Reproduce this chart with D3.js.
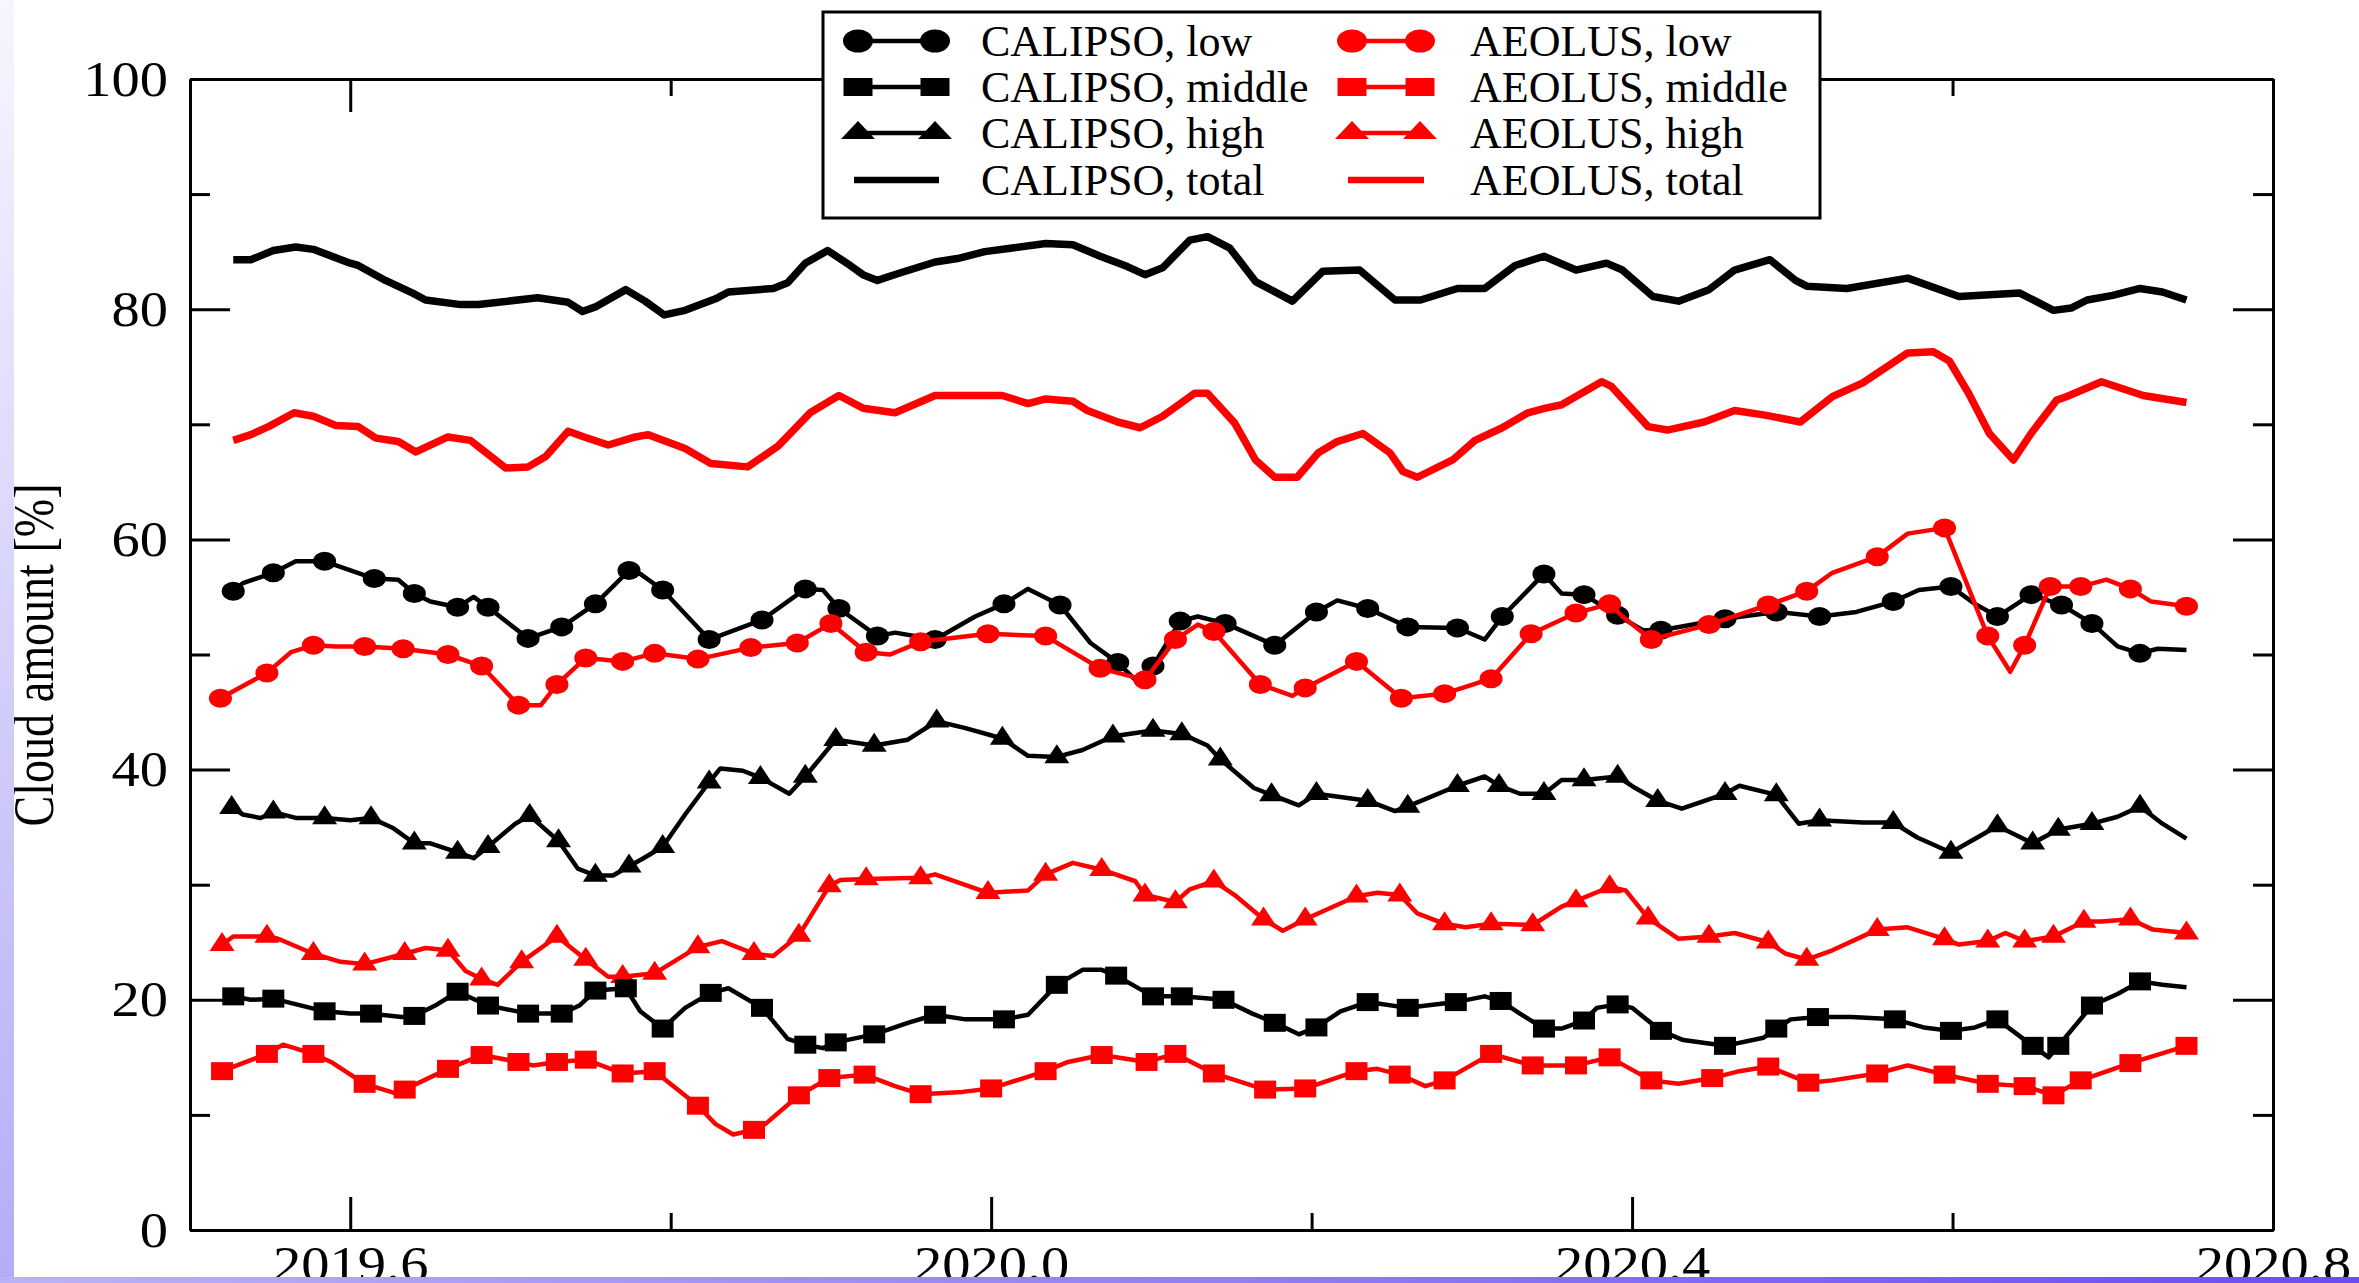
<!DOCTYPE html>
<html>
<head>
<meta charset="utf-8">
<script src="https://cdn.jsdelivr.net/npm/d3@7"></script>
<style>
  body { margin: 0; background: #fff; }
  svg { display: block; }
</style>
</head>
<body>
<svg id="chart" width="2359" height="1283"></svg>
<script>
// Cloud amount time series, [decimal year, %, marker drawn (1/0)]
const calipsoTotal = [
  [2019.527,84.3],[2019.538,84.3],[2019.552,85.1],[2019.566,85.4],[2019.577,85.2],[2019.600,84.0],[2019.605,83.8],
  [2019.622,82.5],[2019.639,81.4],[2019.647,80.8],[2019.669,80.4],[2019.680,80.4],[2019.717,81.0],[2019.736,80.6],
  [2019.745,79.8],[2019.753,80.2],[2019.772,81.7],[2019.784,80.7],[2019.796,79.5],[2019.809,79.9],[2019.828,80.9],
  [2019.836,81.5],[2019.864,81.8],[2019.873,82.3],[2019.884,84.0],[2019.898,85.1],[2019.912,83.8],[2019.920,83.0],
  [2019.929,82.5],[2019.942,83.1],[2019.965,84.1],[2019.979,84.4],[2019.996,85.0],[2020.012,85.3],[2020.034,85.7],
  [2020.051,85.6],[2020.068,84.6],[2020.085,83.7],[2020.096,83.0],[2020.107,83.6],[2020.124,86.0],[2020.135,86.3],
  [2020.149,85.3],[2020.165,82.4],[2020.188,80.7],[2020.207,83.3],[2020.230,83.4],[2020.252,80.8],[2020.268,80.8],
  [2020.291,81.8],[2020.308,81.8],[2020.327,83.8],[2020.345,84.6],[2020.365,83.4],[2020.384,84.0],[2020.394,83.4],
  [2020.413,81.1],[2020.429,80.7],[2020.448,81.7],[2020.464,83.4],[2020.486,84.3],[2020.502,82.5],[2020.509,82.0],
  [2020.534,81.8],[2020.572,82.7],[2020.604,81.1],[2020.642,81.4],[2020.663,79.9],[2020.674,80.1],[2020.684,80.8],
  [2020.700,81.2],[2020.717,81.8],[2020.731,81.5],[2020.746,80.8]
];

const aeolusTotal = [
  [2019.527,68.6],[2019.538,69.1],[2019.549,69.8],[2019.565,71.0],[2019.577,70.7],[2019.591,69.9],[2019.605,69.8],
  [2019.616,68.8],[2019.630,68.5],[2019.641,67.6],[2019.661,68.9],[2019.675,68.6],[2019.697,66.2],[2019.711,66.3],
  [2019.722,67.2],[2019.736,69.4],[2019.746,68.9],[2019.761,68.2],[2019.778,68.9],[2019.786,69.1],[2019.809,67.9],
  [2019.825,66.6],[2019.848,66.3],[2019.867,68.1],[2019.887,71.0],[2019.905,72.5],[2019.920,71.4],[2019.940,71.0],
  [2019.965,72.5],[2019.984,72.5],[2020.007,72.5],[2020.023,71.8],[2020.034,72.2],[2020.051,72.0],[2020.060,71.2],
  [2020.079,70.2],[2020.093,69.7],[2020.107,70.7],[2020.127,72.7],[2020.135,72.7],[2020.152,70.1],[2020.165,66.9],
  [2020.177,65.4],[2020.191,65.4],[2020.204,67.5],[2020.216,68.5],[2020.232,69.2],[2020.249,67.5],[2020.257,65.9],
  [2020.266,65.4],[2020.288,66.9],[2020.302,68.6],[2020.319,69.7],[2020.335,71.0],[2020.346,71.4],[2020.356,71.7],
  [2020.381,73.7],[2020.387,73.3],[2020.410,69.8],[2020.422,69.5],[2020.445,70.2],[2020.464,71.2],[2020.483,70.8],
  [2020.505,70.2],[2020.525,72.4],[2020.544,73.6],[2020.572,76.2],[2020.588,76.3],[2020.598,75.5],[2020.610,72.7],
  [2020.623,69.2],[2020.638,66.9],[2020.649,69.2],[2020.665,72.1],[2020.671,72.4],[2020.693,73.7],[2020.719,72.5],
  [2020.746,71.9]
];

const calipsoLow = [
  [2019.527,55.5,1],[2019.533,56.2,0],[2019.552,57.1,1],[2019.566,58.1,0],[2019.584,58.1,1],[2019.615,56.6,1],
  [2019.630,56.5,0],[2019.640,55.3,1],[2019.650,54.6,0],[2019.667,54.1,1],[2019.677,55.0,0],[2019.686,54.1,1],
  [2019.711,51.4,1],[2019.732,52.4,1],[2019.753,54.4,1],[2019.774,57.3,1],[2019.781,57.0,0],[2019.795,55.6,1],
  [2019.824,51.3,1],[2019.857,53.0,1],[2019.884,55.7,1],[2019.895,55.6,0],[2019.905,54.0,1],[2019.929,51.6,1],
  [2019.940,51.9,0],[2019.965,51.3,1],[2019.990,53.3,0],[2020.008,54.4,1],[2020.023,55.7,0],[2020.043,54.3,1],
  [2020.062,51.0,0],[2020.079,49.3,1],[2020.090,47.8,0],[2020.101,49.0,1],[2020.118,52.9,1],[2020.129,53.3,0],
  [2020.146,52.7,1],[2020.177,50.8,1],[2020.203,53.7,1],[2020.216,54.7,0],[2020.235,54.0,1],[2020.260,52.4,1],
  [2020.291,52.3,1],[2020.308,51.3,0],[2020.319,53.3,1],[2020.345,57.0,1],[2020.356,55.3,0],[2020.370,55.2,1],
  [2020.391,53.4,1],[2020.407,52.1,0],[2020.418,52.1,1],[2020.458,53.1,1],[2020.490,53.7,1],[2020.517,53.3,1],
  [2020.540,53.7,0],[2020.563,54.6,1],[2020.579,55.6,0],[2020.599,55.9,1],[2020.614,54.4,0],[2020.628,53.3,1],
  [2020.649,55.2,1],[2020.668,54.3,1],[2020.687,52.7,1],[2020.703,50.7,0],[2020.717,50.1,1],[2020.728,50.5,0],
  [2020.746,50.4,0]
];

const aeolusLow = [
  [2019.519,46.2,1],[2019.548,48.4,1],[2019.563,50.2,0],[2019.577,50.8,1],[2019.591,50.7,0],[2019.609,50.7,1],
  [2019.633,50.5,1],[2019.661,50.0,1],[2019.682,49.0,1],[2019.705,45.6,1],[2019.719,45.6,0],[2019.729,47.4,1],
  [2019.747,49.7,1],[2019.770,49.4,1],[2019.790,50.1,1],[2019.817,49.6,1],[2019.850,50.6,1],[2019.879,51.0,1],
  [2019.900,52.7,1],[2019.922,50.2,1],[2019.937,50.0,0],[2019.956,51.1,1],[2019.998,51.8,1],[2020.034,51.6,1],
  [2020.068,48.8,1],[2020.096,47.8,1],[2020.115,51.3,1],[2020.129,52.6,0],[2020.139,52.0,1],[2020.168,47.4,1],
  [2020.188,46.4,0],[2020.196,47.1,1],[2020.228,49.4,1],[2020.256,46.2,1],[2020.283,46.6,1],[2020.312,47.9,1],
  [2020.337,51.8,1],[2020.365,53.6,1],[2020.386,54.4,1],[2020.394,53.3,0],[2020.412,51.3,1],[2020.448,52.6,1],
  [2020.485,54.3,1],[2020.509,55.5,1],[2020.525,57.1,0],[2020.553,58.5,1],[2020.572,60.5,0],[2020.595,61.0,1],
  [2020.622,51.6,1],[2020.636,48.5,0],[2020.645,50.8,1],[2020.661,55.9,1],[2020.680,55.9,1],[2020.696,56.5,0],
  [2020.711,55.7,1],[2020.724,54.6,0],[2020.746,54.2,1]
];

const calipsoHigh = [
  [2019.526,36.7,1],[2019.533,36.1,0],[2019.544,35.8,0],[2019.552,36.3,1],[2019.566,35.8,0],[2019.584,35.8,1],
  [2019.600,35.6,0],[2019.613,35.8,1],[2019.627,34.9,0],[2019.640,33.6,1],[2019.650,33.6,0],[2019.667,32.8,1],
  [2019.677,32.3,0],[2019.686,33.3,1],[2019.703,35.3,0],[2019.712,36.0,1],[2019.730,33.8,1],[2019.742,31.4,0],
  [2019.753,30.8,1],[2019.764,30.8,0],[2019.774,31.6,1],[2019.783,32.3,0],[2019.795,33.3,1],[2019.809,36.1,0],
  [2019.824,38.9,1],[2019.831,40.1,0],[2019.845,39.9,0],[2019.856,39.3,1],[2019.874,37.9,0],[2019.884,39.4,1],
  [2019.903,42.6,1],[2019.927,42.1,1],[2019.948,42.6,0],[2019.966,44.2,1],[2019.984,43.6,0],[2020.007,42.7,1],
  [2020.023,41.2,0],[2020.041,41.1,1],[2020.057,41.7,0],[2020.076,42.9,1],[2020.101,43.4,1],[2020.119,43.1,1],
  [2020.135,42.1,0],[2020.143,40.9,1],[2020.164,38.4,0],[2020.175,37.8,1],[2020.192,36.9,0],[2020.203,37.9,1],
  [2020.235,37.3,1],[2020.252,36.4,0],[2020.260,36.8,1],[2020.291,38.6,1],[2020.308,39.4,0],[2020.317,38.6,1],
  [2020.330,37.9,0],[2020.345,37.9,1],[2020.356,39.1,0],[2020.370,39.1,1],[2020.391,39.4,1],[2020.402,38.4,0],
  [2020.416,37.3,1],[2020.431,36.6,0],[2020.458,37.9,1],[2020.467,38.6,0],[2020.490,37.8,1],[2020.504,35.3,0],
  [2020.517,35.6,1],[2020.544,35.4,0],[2020.563,35.4,1],[2020.578,34.1,0],[2020.599,32.8,1],[2020.628,35.1,1],
  [2020.650,33.6,1],[2020.666,34.8,1],[2020.687,35.3,1],[2020.703,35.9,0],[2020.717,36.8,1],[2020.731,35.3,0],
  [2020.746,34.0,0]
];

const aeolusHigh = [
  [2019.520,24.8,1],[2019.527,25.5,0],[2019.548,25.5,1],[2019.555,25.3,0],[2019.577,24.0,1],[2019.594,23.3,0],
  [2019.609,23.1,1],[2019.634,24.0,1],[2019.647,24.5,0],[2019.661,24.3,1],[2019.672,22.5,0],[2019.682,21.8,1],
  [2019.692,21.3,0],[2019.707,23.3,1],[2019.729,25.5,1],[2019.747,23.5,1],[2019.761,22.0,0],[2019.770,22.0,1],
  [2019.790,22.3,1],[2019.817,24.6,1],[2019.832,25.1,0],[2019.852,24.0,1],[2019.864,23.8,0],[2019.880,25.6,1],
  [2019.899,29.9,1],[2019.906,30.4,0],[2019.922,30.5,1],[2019.956,30.6,1],[2019.965,30.9,0],[2019.998,29.3,1],
  [2020.023,29.5,0],[2020.034,30.9,1],[2020.051,31.9,0],[2020.069,31.3,1],[2020.090,30.3,0],[2020.096,29.1,1],
  [2020.115,28.5,1],[2020.124,29.6,0],[2020.139,30.3,1],[2020.152,29.1,0],[2020.170,27.0,1],[2020.182,26.0,0],
  [2020.196,27.0,1],[2020.228,29.0,1],[2020.241,29.3,0],[2020.255,29.1,1],[2020.266,27.5,0],[2020.283,26.6,1],
  [2020.296,26.3,0],[2020.312,26.6,1],[2020.338,26.5,1],[2020.356,28.1,0],[2020.365,28.6,1],[2020.386,29.8,1],
  [2020.396,29.5,0],[2020.410,27.1,1],[2020.429,25.3,0],[2020.448,25.5,1],[2020.464,25.8,0],[2020.485,25.0,1],
  [2020.496,24.0,0],[2020.509,23.5,1],[2020.525,24.3,0],[2020.553,26.1,1],[2020.572,26.3,0],[2020.595,25.3,1],
  [2020.604,24.8,0],[2020.622,25.1,1],[2020.633,25.8,0],[2020.645,25.1,1],[2020.663,25.5,1],[2020.682,26.8,1],
  [2020.693,26.8,0],[2020.711,27.0,1],[2020.725,26.1,0],[2020.746,25.8,1]
];

const calipsoMiddle = [
  [2019.527,20.3,1],[2019.538,20.0,0],[2019.552,20.1,1],[2019.584,19.0,1],[2019.600,18.8,0],[2019.613,18.8,1],
  [2019.632,18.5,0],[2019.640,18.6,1],[2019.653,19.5,0],[2019.667,20.7,1],[2019.686,19.5,1],[2019.711,18.8,1],
  [2019.732,18.8,1],[2019.743,19.5,0],[2019.753,20.8,1],[2019.772,21.0,1],[2019.781,19.0,0],[2019.795,17.5,1],
  [2019.809,19.3,0],[2019.825,20.6,1],[2019.836,21.0,0],[2019.857,19.3,1],[2019.873,16.6,0],[2019.884,16.1,1],
  [2019.895,15.8,0],[2019.903,16.3,1],[2019.927,17.0,1],[2019.948,18.0,0],[2019.965,18.7,1],[2019.984,18.3,0],
  [2020.008,18.3,1],[2020.023,18.7,0],[2020.041,21.3,1],[2020.057,22.6,0],[2020.069,22.6,0],[2020.078,22.1,1],
  [2020.101,20.3,1],[2020.119,20.3,1],[2020.145,20.0,1],[2020.163,18.8,0],[2020.177,18.0,1],[2020.192,17.0,0],
  [2020.203,17.6,1],[2020.218,19.0,0],[2020.235,19.8,1],[2020.260,19.3,1],[2020.290,19.8,1],[2020.308,20.3,0],
  [2020.318,19.9,1],[2020.330,18.8,0],[2020.345,17.5,1],[2020.356,17.5,0],[2020.370,18.2,1],[2020.378,19.3,0],
  [2020.391,19.6,1],[2020.400,19.3,0],[2020.418,17.3,1],[2020.432,16.5,0],[2020.458,16.0,1],[2020.482,16.7,0],
  [2020.490,17.5,1],[2020.499,18.3,0],[2020.516,18.5,1],[2020.537,18.5,0],[2020.564,18.3,1],[2020.582,17.6,0],
  [2020.599,17.3,1],[2020.614,17.6,0],[2020.628,18.3,1],[2020.650,16.0,1],[2020.660,15.0,0],[2020.666,16.0,1],
  [2020.687,19.5,1],[2020.703,20.5,0],[2020.717,21.6,1],[2020.731,21.3,0],[2020.746,21.1,0]
];

const aeolusMiddle = [
  [2019.520,13.8,1],[2019.533,14.5,0],[2019.548,15.3,1],[2019.558,16.1,0],[2019.577,15.3,1],[2019.588,14.6,0],
  [2019.609,12.7,1],[2019.630,11.8,0],[2019.634,12.2,1],[2019.661,14.0,1],[2019.682,15.2,1],[2019.705,14.6,1],
  [2019.714,14.3,0],[2019.729,14.6,1],[2019.747,14.8,1],[2019.770,13.6,1],[2019.790,13.8,1],[2019.817,10.8,1],
  [2019.828,9.2,0],[2019.839,8.3,0],[2019.852,8.7,1],[2019.859,9.2,0],[2019.880,11.7,1],[2019.899,13.2,1],
  [2019.921,13.5,1],[2019.940,12.5,0],[2019.956,11.8,1],[2019.982,12.0,0],[2020.000,12.3,1],[2020.034,13.8,1],
  [2020.048,14.6,0],[2020.069,15.2,1],[2020.097,14.6,1],[2020.115,15.3,1],[2020.139,13.6,1],[2020.171,12.2,1],
  [2020.196,12.3,1],[2020.228,13.8,1],[2020.241,14.0,0],[2020.255,13.5,1],[2020.271,12.5,0],[2020.283,13.0,1],
  [2020.312,15.3,1],[2020.338,14.3,1],[2020.365,14.3,1],[2020.386,15.0,1],[2020.412,13.0,1],[2020.429,12.7,0],
  [2020.450,13.2,1],[2020.467,13.8,0],[2020.485,14.2,1],[2020.510,12.8,1],[2020.525,13.0,0],[2020.553,13.6,1],
  [2020.572,14.3,0],[2020.595,13.5,1],[2020.622,12.7,1],[2020.645,12.5,1],[2020.663,11.7,1],[2020.680,13.0,1],
  [2020.711,14.5,1],[2020.746,16.0,1]
];

// axis ticks
const xMajorTicks = [2019.6, 2020.0, 2020.4, 2020.8];
const xMinorTicks = [2019.8, 2020.2, 2020.6];
const yMajorTicks = [0, 20, 40, 60, 80, 100];
const yMinorTicks = [10, 30, 50, 70, 90];

const RED = '#ff0000';
const series = [
  { name: 'CALIPSO, total',  data: calipsoTotal,  color: '#000', width: 7.5, symbol: null },
  { name: 'AEOLUS, total',   data: aeolusTotal,   color: RED,    width: 7.5, symbol: null },
  { name: 'CALIPSO, low',    data: calipsoLow,    color: '#000', width: 4.5, symbol: 'circle' },
  { name: 'AEOLUS, low',     data: aeolusLow,     color: RED,    width: 4.5, symbol: 'circle' },
  { name: 'CALIPSO, high',   data: calipsoHigh,   color: '#000', width: 4.5, symbol: 'triangle' },
  { name: 'AEOLUS, high',    data: aeolusHigh,    color: RED,    width: 4.5, symbol: 'triangle' },
  { name: 'CALIPSO, middle', data: calipsoMiddle, color: '#000', width: 4.5, symbol: 'square' },
  { name: 'AEOLUS, middle',  data: aeolusMiddle,  color: RED,    width: 4.5, symbol: 'square' }
];

const legendLeft = ['CALIPSO, low', 'CALIPSO, middle', 'CALIPSO, high', 'CALIPSO, total'];
const legendRight = ['AEOLUS, low', 'AEOLUS, middle', 'AEOLUS, high', 'AEOLUS, total'];

// Layout
const plot = { left: 190, right: 2273, top: 79, bottom: 1230 };
const FONT = '"Liberation Serif", "Times New Roman", serif';

const svg = d3.select('#chart');

const xScale = d3.scaleLinear().domain([2019.5, 2020.8]).range([plot.left, plot.right]);
const yScale = d3.scaleLinear().domain([0, 100]).range([plot.bottom, plot.top]);

// unit-size symbol paths, stretched per marker with a transform
const unitSym = {
  circle: d3.symbol(d3.symbolCircle, Math.PI / 4)(),
  square: d3.symbol(d3.symbolSquare, 1)(),
  triangle: d3.symbol(d3.symbolTriangle, Math.sqrt(3) / 4)()
};
function symScale(type, w, h) {
  return type === 'triangle' ? `scale(${w},${h / 0.866})` : `scale(${w},${h})`;
}
const markerSize = { circle: [23, 19], square: [22, 18], triangle: [25, 19] };
const legendMarkerSize = { circle: [30, 23], square: [29, 18], triangle: [34, 18] };

// Background slide edges
const defs = svg.append('defs');
const gl = defs.append('linearGradient').attr('id', 'leftGrad')
  .attr('x1', 0).attr('y1', 0).attr('x2', 0).attr('y2', 1);
gl.append('stop').attr('offset', '0%').attr('stop-color', '#f6f6ff');
gl.append('stop').attr('offset', '100%').attr('stop-color', '#b4acf6');
const gb = defs.append('linearGradient').attr('id', 'bottomGrad')
  .attr('x1', 0).attr('y1', 0).attr('x2', 1).attr('y2', 0);
gb.append('stop').attr('offset', '0%').attr('stop-color', '#bab2f8');
gb.append('stop').attr('offset', '100%').attr('stop-color', '#6c4cf0');

svg.append('rect').attr('width', 2359).attr('height', 1283).attr('fill', '#fff');

// Lines
const line = d3.line()
  .x(d => xScale(d[0]))
  .y(d => yScale(d[1]));

series.forEach(s => {
  svg.append('path')
    .datum(s.data)
    .attr('d', line)
    .attr('fill', 'none')
    .attr('stroke', s.color)
    .attr('stroke-width', s.width)
    .attr('stroke-linejoin', 'round')
    .attr('stroke-linecap', 'butt');

  if (s.symbol) {
    const [w, h] = markerSize[s.symbol];
    svg.append('g').selectAll('path')
      .data(s.data.filter(d => d[2] === 1))
      .enter()
      .append('path')
      .attr('d', unitSym[s.symbol])
      .attr('transform', d => `translate(${xScale(d[0])},${yScale(d[1])}) ${symScale(s.symbol, w, h)}`)
      .attr('fill', s.color);
  }
});

// Axes (ticks point inward)
function styleAxis(g, labels) {
  g.attr('font-family', FONT).attr('font-size', 50);
  g.selectAll('.domain').attr('stroke', '#000').attr('stroke-width', 3);
  g.selectAll('.tick line').attr('stroke', '#000').attr('stroke-width', 3);
  g.selectAll('.tick text').attr('fill', '#000');
  if (labels) {
    g.selectAll('.tick text').each(function () {
      const w = this.getComputedTextLength();
      d3.select(this).attr('textLength', w * 1.13).attr('lengthAdjust', 'spacingAndGlyphs');
    });
  }
}

const fmtX = d3.format('.1f');

svg.append('g').attr('transform', `translate(0,${plot.bottom})`)
  .call(d3.axisBottom(xScale).tickValues(xMinorTicks).tickSizeInner(-17).tickSizeOuter(0).tickFormat(''))
  .call(g => styleAxis(g, false));
svg.append('g').attr('transform', `translate(0,${plot.bottom})`)
  .call(d3.axisBottom(xScale).tickValues(xMajorTicks).tickSizeInner(-33).tickSizeOuter(0).tickPadding(15).tickFormat(fmtX))
  .call(g => styleAxis(g, true));

svg.append('g').attr('transform', `translate(0,${plot.top})`)
  .call(d3.axisTop(xScale).tickValues(xMinorTicks).tickSizeInner(-17).tickSizeOuter(0).tickFormat(''))
  .call(g => styleAxis(g, false));
svg.append('g').attr('transform', `translate(0,${plot.top})`)
  .call(d3.axisTop(xScale).tickValues(xMajorTicks).tickSizeInner(-33).tickSizeOuter(0).tickFormat(''))
  .call(g => styleAxis(g, false));

svg.append('g').attr('transform', `translate(${plot.left},0)`)
  .call(d3.axisLeft(yScale).tickValues(yMinorTicks).tickSizeInner(-20).tickSizeOuter(0).tickFormat(''))
  .call(g => styleAxis(g, false));
svg.append('g').attr('transform', `translate(${plot.left},0)`)
  .call(d3.axisLeft(yScale).tickValues(yMajorTicks).tickSizeInner(-40).tickSizeOuter(0).tickPadding(22).tickFormat(d3.format('d')))
  .call(g => styleAxis(g, true));

svg.append('g').attr('transform', `translate(${plot.right},0)`)
  .call(d3.axisRight(yScale).tickValues(yMinorTicks).tickSizeInner(-20).tickSizeOuter(0).tickFormat(''))
  .call(g => styleAxis(g, false));
svg.append('g').attr('transform', `translate(${plot.right},0)`)
  .call(d3.axisRight(yScale).tickValues(yMajorTicks).tickSizeInner(-40).tickSizeOuter(0).tickFormat(''))
  .call(g => styleAxis(g, false));

// Y axis title
svg.append('text')
  .attr('transform', 'rotate(-90)')
  .attr('x', -655)
  .attr('y', 53)
  .attr('text-anchor', 'middle')
  .attr('font-family', FONT)
  .attr('font-size', 56)
  .attr('textLength', 343)
  .attr('lengthAdjust', 'spacingAndGlyphs')
  .text('Cloud amount [%]');

// Legend
const legend = svg.append('g');
legend.append('rect')
  .attr('x', 823).attr('y', 12).attr('width', 997).attr('height', 206)
  .attr('fill', '#fff').attr('stroke', '#000').attr('stroke-width', 3);

const rowY = [41, 87, 133, 180];
const columns = [
  { names: legendLeft, x1: 858, x2: 935, tx: 981 },
  { names: legendRight, x1: 1352, x2: 1420, tx: 1470 }
];
columns.forEach(col => {
  col.names.forEach((name, i) => {
    const s = series.find(d => d.name === name);
    const cy = rowY[i];
    const item = legend.append('g');
    if (s.symbol) {
      item.append('line')
        .attr('x1', col.x1).attr('x2', col.x2).attr('y1', cy).attr('y2', cy)
        .attr('stroke', s.color).attr('stroke-width', 4.5);
      const [w, h] = legendMarkerSize[s.symbol];
      [col.x1, col.x2].forEach(px => {
        item.append('path')
          .attr('d', unitSym[s.symbol])
          .attr('transform', `translate(${px},${cy}) ${symScale(s.symbol, w, h)}`)
          .attr('fill', s.color);
      });
    } else {
      item.append('line')
        .attr('x1', col.x1 - 4).attr('x2', col.x2 + 4).attr('y1', cy).attr('y2', cy)
        .attr('stroke', s.color).attr('stroke-width', 6.5);
    }
    item.append('text')
      .attr('x', col.tx).attr('y', cy).attr('dy', '0.35em')
      .attr('font-family', FONT).attr('font-size', 44)
      .attr('fill', '#000')
      .text(name);
  });
});

// slide edges drawn last
svg.append('rect').attr('x', 0).attr('y', 0).attr('width', 14).attr('height', 1283).attr('fill', 'url(#leftGrad)');
svg.append('rect').attr('x', 0).attr('y', 1277).attr('width', 2359).attr('height', 6).attr('fill', 'url(#bottomGrad)');
</script>
</body>
</html>
